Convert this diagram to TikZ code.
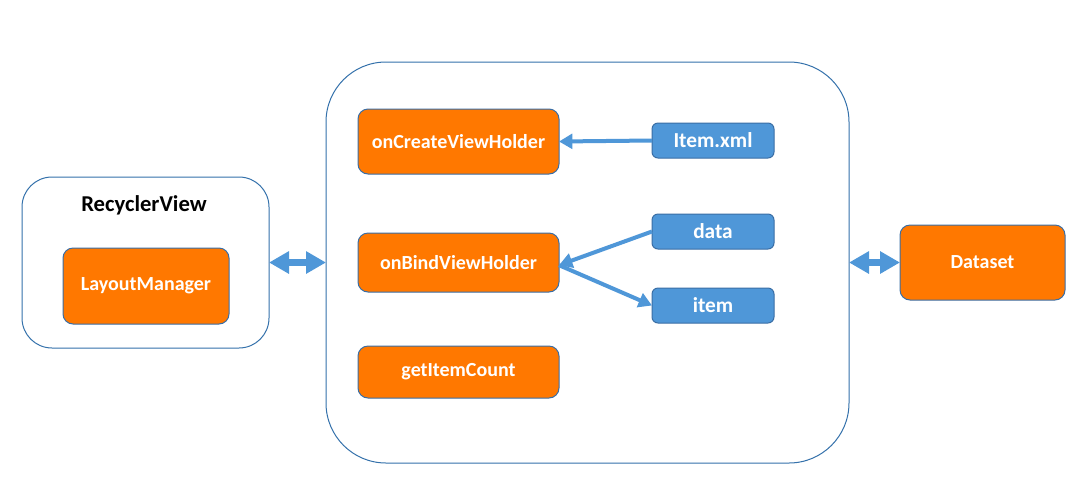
\documentclass[tikz,border=0pt]{standalone}
\usepackage{fontspec}
\setmainfont{Carlito}
\usetikzlibrary{arrows.meta}
\definecolor{orng}{HTML}{FF7800}
\definecolor{bfill}{HTML}{4F97D8}
\definecolor{bdark}{HTML}{3A6EA5}
\definecolor{cont}{HTML}{3471AB}
\definecolor{arr}{HTML}{4F97D8}
\tikzset{
  container/.style={draw=cont, line width=0.75pt, fill=white, rounded corners=#1, inner sep=0pt, outer sep=0pt},
  obox/.style={draw=bdark, line width=0.75pt, fill=orng, rounded corners=7.5pt, text=white, font=\bfseries\fontsize{15}{18}\selectfont, inner sep=0pt, outer sep=0pt},
  bbox/.style={draw=bdark, line width=0.75pt, fill=bfill, rounded corners=4.5pt, text=white, font=\bfseries\fontsize{16}{19}\selectfont, inner sep=0pt, outer sep=0pt, minimum width=91.5pt, minimum height=26.25pt},
  bigarrow/.style={draw=arr, line width=5.5pt, {Triangle[length=15pt,width=16pt]}-{Triangle[length=15pt,width=16pt]}},
  smallarrow/.style={draw=arr, line width=3pt, -{Triangle[length=10pt,width=11pt]}}
}
\begin{document}
\begin{tikzpicture}[x=0.75pt,y=-0.75pt]
\useasboundingbox (0,0) rectangle (1082,501);
% RecyclerView container
\node[container=22.5pt, minimum width=185.25pt, minimum height=128.25pt] (rv) at (145.5,262.5) {};
\node[font=\bfseries\fontsize{17}{20}\selectfont, text=black] (rvlabel) at (144,205) {RecyclerView};
\node[obox, minimum width=124.5pt, minimum height=57pt] (lm) at (146,286) {LayoutManager};
% Middle container
\node[container=45pt, minimum width=392.25pt, minimum height=300.75pt] (mid) at (587.5,262.5) {};
\node[obox, minimum width=150.75pt, minimum height=48.75pt] (create) at (458.5,141.5) {onCreateViewHolder};
\node[obox, minimum width=150.75pt, minimum height=44.25pt] (bind) at (458.5,262.5) {onBindViewHolder};
\node[obox, minimum width=150.75pt, minimum height=39pt] (count) at (458.5,372) {getItemCount};
\node[bbox] (xml) at (713,140.5) {Item.xml};
\node[bbox] (data) at (713,231.5) {data};
\node[bbox] (item) at (713,305.5) {item};
% Dataset
\node[obox, minimum width=123.75pt, minimum height=56.25pt] (ds) at (982.5,262.5) {Dataset};
% Arrows
\draw[bigarrow] (rv.east) -- (mid.west);
\draw[bigarrow] (mid.east) -- (ds.west);
\draw[smallarrow] (xml.west) -- (create.east);
\draw[smallarrow] (data.west) -- ([yshift=-2pt]bind.east);
\draw[smallarrow] ([yshift=-2pt]bind.east) -- (item.west);
\end{tikzpicture}
\end{document}
